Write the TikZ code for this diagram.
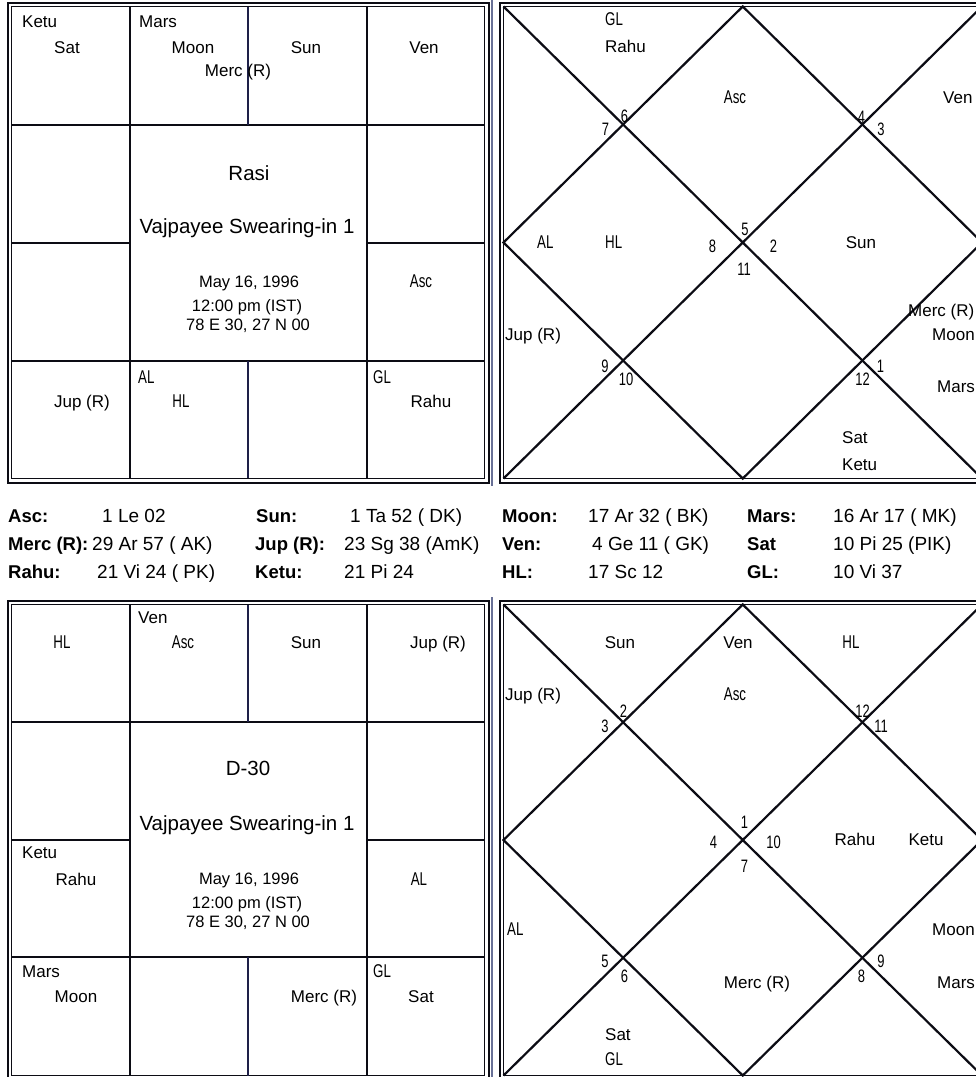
\documentclass[tikz,border=0pt]{standalone}
\usepackage{fontspec}
\setmainfont{Liberation Sans}
\newfontfamily\vjnarrow[FakeStretch=0.72]{Liberation Sans}
\definecolor{VjInk}{RGB}{12,12,20}
\definecolor{VjNavy}{RGB}{30,32,72}
\definecolor{VjEdge}{RGB}{104,112,150}
\tikzset{
  vj/outer/.style={draw=VjInk, line width=2pt},
  vj/inner/.style={draw=VjInk, line width=1.2pt},
  vj/grid/.style={draw=VjInk, line width=2.6pt},
  vj/navygrid/.style={draw=VjNavy, line width=2.4pt},
  vj/diag/.style={draw=VjInk, line width=2.2pt, line join=miter},
  vj/edge/.style={draw=VjEdge, line width=2.5pt},
  vj/planet/.style={inner sep=0pt, anchor=base, font=\fontsize{17}{19}\selectfont},
  vj/planetleft/.style={vj/planet, anchor=base west},
  vj/tag/.style={inner sep=0pt, anchor=base, font=\vjnarrow\fontsize{18.5}{20}\selectfont},
  vj/tagleft/.style={vj/tag, anchor=base west},
  vj/num/.style={inner sep=0pt, anchor=base, font=\vjnarrow\fontsize{18}{20}\selectfont},
  vj/title/.style={inner sep=0pt, anchor=base, font=\fontsize{20.5}{24}\selectfont},
  vj/info/.style={inner sep=0pt, anchor=base, font=\fontsize{16.5}{19}\selectfont},
  vj/key/.style={inner sep=0pt, anchor=base west, font=\bfseries\fontsize{18.5}{21}\selectfont},
  vj/val/.style={inner sep=0pt, anchor=base west, font=\fontsize{19}{21}\selectfont}
}
\begin{document}
\begin{tikzpicture}[x=1pt,y=-1pt]
  \clip (0,0) rectangle (976,1077);
  \fill[white] (0,0) rectangle (976,1077);

  \draw[vj/edge] (492,0) -- (492,486) (492,597) -- (492,1077);

  \draw[vj/outer] (7.5,2.5) rectangle (488.5,482.5);
  \draw[vj/inner] (11.5,6.5) rectangle (484.5,478.5);
  \draw[vj/grid] (12,125) -- (484,125) (12,361) -- (484,361) (12,243) -- (130,243) (367,243) -- (484,243)
    (130,7) -- (130,478) (367,7) -- (367,478);
  \draw[vj/navygrid] (248,7) -- (248,125) (248,361) -- (248,478);

  \draw[vj/outer] (499.5,2.5) rectangle (986,482.5);
  \draw[vj/inner] (503.5,6.5) rectangle (982,478.5);
  \draw[vj/diag] (503.5,6.5) -- (982,478.5) (982,6.5) -- (503.5,478.5);
  \draw[vj/diag] (742.75,6.5) -- (982,242.5) -- (742.75,478.5) -- (503.5,242.5) -- cycle;

  \draw[vj/outer] (7.5,600.5) rectangle (488.5,1080);
  \draw[vj/inner] (11.5,604.5) rectangle (484.5,1075.5);
  \draw[vj/grid] (12,722) -- (484,722) (12,957) -- (484,957) (12,840) -- (130,840) (367,840) -- (484,840)
    (130,605) -- (130,1076) (367,605) -- (367,1076);
  \draw[vj/navygrid] (248,605) -- (248,722) (248,957) -- (248,1076);

  \draw[vj/outer] (499.5,600.5) rectangle (986,1080);
  \draw[vj/inner] (503.5,604.5) rectangle (982,1075.5);
  \draw[vj/diag] (503.5,604.5) -- (982,1075.5) (982,604.5) -- (503.5,1075.5);
  \draw[vj/diag] (742.75,604.5) -- (982,840) -- (742.75,1075.5) -- (503.5,840) -- cycle;

  \node[vj/planetleft] (ra-ketu) at (22,27) {Ketu};
  \node[vj/planet] (ra-sat) at (67,53) {Sat};
  \node[vj/planetleft] (ra-mars) at (139,27) {Mars};
  \node[vj/planet] (ra-moon) at (193,53) {Moon};
  \node[vj/planet] (ra-merc) at (238,76) {Merc (R)};
  \node[vj/planet] (ra-sun) at (306,53) {Sun};
  \node[vj/planet] (ra-ven) at (424,53) {Ven};
  \node[vj/title] (ra-name) at (249,180) {Rasi};
  \node[vj/title] (ra-event) at (247,233) {Vajpayee Swearing-in 1};
  \node[vj/info] (ra-date) at (249,287) {May 16, 1996};
  \node[vj/info] (ra-time) at (247,311) {12:00 pm (IST)};
  \node[vj/info] (ra-place) at (248,330) {78 E 30, 27 N 00};
  \node[vj/tag] (ra-asc) at (421,287) {Asc};
  \node[vj/planet] (ra-jup) at (82,407) {Jup (R)};
  \node[vj/tagleft] (ra-al) at (138,383) {AL};
  \node[vj/tag] (ra-hl) at (181,407) {HL};
  \node[vj/tagleft] (ra-gl) at (373,383) {GL};
  \node[vj/planet] (ra-rahu) at (431,407) {Rahu};

  \node[vj/tagleft] (rn-gl) at (605,25) {GL};
  \node[vj/planetleft] (rn-rahu) at (605,52) {Rahu};
  \node[vj/tag] (rn-asc) at (735,103) {Asc};
  \node[vj/planetleft] (rn-ven) at (943,103) {Ven};
  \node[vj/num] (rn-7) at (605.5,135) {7};
  \node[vj/num] (rn-6) at (624.5,122) {6};
  \node[vj/num] (rn-4) at (861.5,123) {4};
  \node[vj/num] (rn-3) at (881,135) {3};
  \node[vj/tagleft] (rn-al) at (537,248) {AL};
  \node[vj/tagleft] (rn-hl) at (605,248) {HL};
  \node[vj/num] (rn-8) at (712.5,252) {8};
  \node[vj/num] (rn-5) at (745,235) {5};
  \node[vj/num] (rn-2) at (773.5,252) {2};
  \node[vj/num] (rn-11) at (744,275) {11};
  \node[vj/planet] (rn-sun) at (861,248) {Sun};
  \node[vj/planetleft] (rn-merc) at (908,316) {Merc (R)};
  \node[vj/planetleft] (rn-moon) at (932,340) {Moon};
  \node[vj/planetleft] (rn-jup) at (505,340) {Jup (R)};
  \node[vj/num] (rn-9) at (605,372) {9};
  \node[vj/num] (rn-10) at (626,385) {10};
  \node[vj/num] (rn-1) at (880.5,372) {1};
  \node[vj/num] (rn-12) at (862.5,385) {12};
  \node[vj/planetleft] (rn-mars) at (937,392) {Mars};
  \node[vj/planetleft] (rn-sat) at (842,443) {Sat};
  \node[vj/planetleft] (rn-ketu) at (842,470) {Ketu};

  \node[vj/key] (k-asc) at (8,522) {Asc:};
  \node[vj/val] (v-asc) at (102,522) {1 Le 02};
  \node[vj/key] (k-sun) at (256,522) {Sun:};
  \node[vj/val] (v-sun) at (350,522) {1 Ta 52 ( DK)};
  \node[vj/key] (k-moon) at (502,522) {Moon:};
  \node[vj/val] (v-moon) at (588,522) {17 Ar 32 ( BK)};
  \node[vj/key] (k-mars) at (747,522) {Mars:};
  \node[vj/val] (v-mars) at (833,522) {16 Ar 17 ( MK)};
  \node[vj/key] (k-merc) at (8,550) {Merc (R):};
  \node[vj/val] (v-merc) at (92,550) {29 Ar 57 ( AK)};
  \node[vj/key] (k-jup) at (255,550) {Jup (R):};
  \node[vj/val] (v-jup) at (344,550) {23 Sg 38 (AmK)};
  \node[vj/key] (k-ven) at (502,550) {Ven:};
  \node[vj/val] (v-ven) at (592,550) {4 Ge 11 ( GK)};
  \node[vj/key] (k-sat) at (747,550) {Sat};
  \node[vj/val] (v-sat) at (833,550) {10 Pi 25 (PIK)};
  \node[vj/key] (k-rahu) at (8,578) {Rahu:};
  \node[vj/val] (v-rahu) at (97,578) {21 Vi 24 ( PK)};
  \node[vj/key] (k-ketu) at (255,578) {Ketu:};
  \node[vj/val] (v-ketu) at (344,578) {21 Pi 24};
  \node[vj/key] (k-hl) at (502,578) {HL:};
  \node[vj/val] (v-hl) at (588,578) {17 Sc 12};
  \node[vj/key] (k-gl) at (747,578) {GL:};
  \node[vj/val] (v-gl) at (833,578) {10 Vi 37};

  \node[vj/tag] (d-hl) at (62,648) {HL};
  \node[vj/planetleft] (d-ven) at (138,623) {Ven};
  \node[vj/tag] (d-asc) at (183,648) {Asc};
  \node[vj/planet] (d-sun) at (306,648) {Sun};
  \node[vj/planet] (d-jup) at (438,648) {Jup (R)};
  \node[vj/title] (d-name) at (248,775) {D-30};
  \node[vj/title] (d-event) at (247,830) {Vajpayee Swearing-in 1};
  \node[vj/info] (d-date) at (249,884) {May 16, 1996};
  \node[vj/info] (d-time) at (247,908) {12:00 pm (IST)};
  \node[vj/info] (d-place) at (248,927) {78 E 30, 27 N 00};
  \node[vj/planetleft] (d-ketu) at (22,858) {Ketu};
  \node[vj/planet] (d-rahu) at (76,885) {Rahu};
  \node[vj/tag] (d-al) at (419,885) {AL};
  \node[vj/planetleft] (d-mars) at (22,977) {Mars};
  \node[vj/planet] (d-moon) at (76,1002) {Moon};
  \node[vj/planet] (d-merc) at (324,1002) {Merc (R)};
  \node[vj/tagleft] (d-gl) at (373,977) {GL};
  \node[vj/planet] (d-sat) at (421,1002) {Sat};

  \node[vj/planet] (dn-sun) at (620,648) {Sun};
  \node[vj/planet] (dn-ven) at (738,648) {Ven};
  \node[vj/tag] (dn-hl) at (851,648) {HL};
  \node[vj/planetleft] (dn-jup) at (505,700) {Jup (R)};
  \node[vj/tag] (dn-asc) at (735,700) {Asc};
  \node[vj/num] (dn-3) at (605,732) {3};
  \node[vj/num] (dn-2) at (623.5,717) {2};
  \node[vj/num] (dn-12) at (862.5,717) {12};
  \node[vj/num] (dn-11) at (881,732) {11};
  \node[vj/num] (dn-1) at (744.5,828) {1};
  \node[vj/num] (dn-4) at (713.5,848) {4};
  \node[vj/num] (dn-10) at (773.5,848) {10};
  \node[vj/num] (dn-7) at (744.5,872) {7};
  \node[vj/planet] (dn-rahu) at (855,845) {Rahu};
  \node[vj/planet] (dn-ketu) at (926,845) {Ketu};
  \node[vj/tagleft] (dn-al) at (507,935) {AL};
  \node[vj/planetleft] (dn-moon) at (932,935) {Moon};
  \node[vj/num] (dn-5) at (605,967) {5};
  \node[vj/num] (dn-6) at (624.5,982) {6};
  \node[vj/num] (dn-9) at (881,967) {9};
  \node[vj/num] (dn-8) at (861.5,982) {8};
  \node[vj/planet] (dn-merc) at (757,988) {Merc (R)};
  \node[vj/planetleft] (dn-mars) at (937,988) {Mars};
  \node[vj/planetleft] (dn-sat) at (605,1040) {Sat};
  \node[vj/tagleft] (dn-gl) at (605,1065) {GL};
\end{tikzpicture}
\end{document}
